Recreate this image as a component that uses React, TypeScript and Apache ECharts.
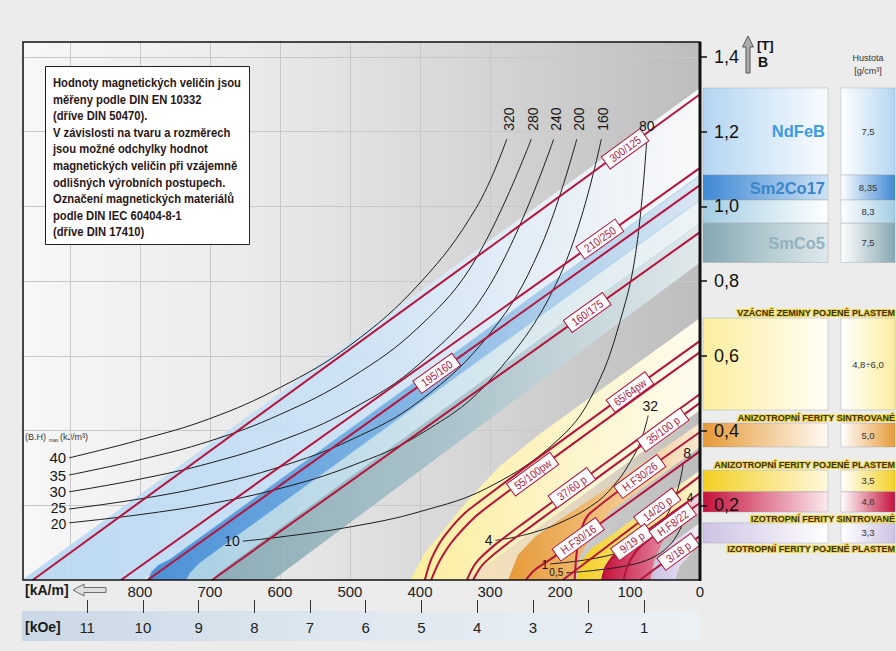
import { useEffect, useRef } from 'react';
import * as echarts from 'echarts';

// Plot frame in page pixels and axis extents
const FRAME = { left: 23, top: 42, right: 700, bottom: 580 };
const H_MAX = 967; // kA/m at the left frame
const B_MAX = 1.44; // T at the top frame
const KAM_PER_KOE = 79.577;

const H_TICKS = [0, 100, 200, 300, 400, 500, 600, 700, 800];
const H_GRID = [100, 200, 300, 400, 500, 600, 700, 800, 900];
const KOE_TICKS = [1, 2, 3, 4, 5, 6, 7, 8, 9, 10, 11];
const B_TICKS = [0.2, 0.4, 0.6, 0.8, 1.0, 1.2, 1.4];

// (BH)max curves, [H kA/m, B T], from the left end up to the top end
const bh320 = [[901, 0.327], [800, 0.375], [700, 0.432], [600, 0.515], [500, 0.628], [400, 0.795], [320, 0.995], [276, 1.18]];
const bh280 = [[901, 0.281], [800, 0.322], [700, 0.372], [600, 0.443], [500, 0.54], [400, 0.68], [320, 0.86], [241, 1.18]];
const bh240 = [[901, 0.236], [800, 0.27], [700, 0.313], [600, 0.372], [500, 0.455], [400, 0.58], [300, 0.79], [209, 1.18]];
const bh200 = [[901, 0.19], [800, 0.217], [700, 0.253], [600, 0.303], [500, 0.374], [400, 0.48], [300, 0.66], [230, 0.88], [176, 1.18]];
const bh160 = [[901, 0.153], [800, 0.175], [700, 0.204], [600, 0.245], [500, 0.304], [400, 0.39], [300, 0.535], [200, 0.815], [141, 1.18]];
const bh80 = [[653, 0.104], [600, 0.115], [500, 0.142], [400, 0.183], [300, 0.25], [200, 0.38], [150, 0.51], [110, 0.72], [90, 0.9], [76, 1.18]];
const bh32 = [[292, 0.106], [250, 0.121], [200, 0.153], [150, 0.205], [120, 0.26], [100, 0.315], [85, 0.37], [74, 0.44]];
const bh8 = [[214, 0.043], [150, 0.058], [100, 0.085], [70, 0.12], [50, 0.165], [36, 0.22], [28, 0.27], [24, 0.31]];
const bh4 = [[191, 0.019], [150, 0.026], [100, 0.04], [70, 0.058], [45, 0.09], [30, 0.13], [22, 0.165], [17, 0.2]];

const BH_CURVES = [
  { kj: '320', mgoe: '40', pts: bh320 },
  { kj: '280', mgoe: '35', pts: bh280 },
  { kj: '240', mgoe: '30', pts: bh240 },
  { kj: '200', mgoe: '25', pts: bh200 },
  { kj: '160', mgoe: '20', pts: bh160 },
  { kj: '80', mgoe: '10', pts: bh80 },
  { kj: '32', mgoe: '4', pts: bh32 },
  { kj: '8', mgoe: '1', pts: bh8 },
  { kj: '4', mgoe: '0,5', pts: bh4 },
];

// Demagnetisation curves of the grades, [H kA/m, B T]
const dm300_125 = [[0, 1.30], [953, 0]];
const dm210_250 = [[0, 1.103], [827, 0]];
const dm195_160 = [[0, 1.057], [789, 0]];
const dm160_175 = [[0, 0.931], [697, 0]];
const dm65_64pw = [[0, 0.640], [329, 0.190], [364, 0.120], [383, 0.059], [393, 0]];
const dm55_100pw = [[0, 0.610], [311, 0.185], [350, 0.112], [371, 0.054], [384, 0]];
const dm37_60p = [[0, 0.498], [250, 0.155], [293, 0.094], [320, 0.046], [333, 0]];
const dm35_100p = [[0, 0.474], [239, 0.147], [283, 0.086], [311, 0.040], [324, 0]];
const dmHF30_26 = [[0, 0.396], [157, 0.179], [170, 0.134], [176, 0.075], [179, 0]];
const dmHF30_16 = [[0, 0.345], [207, 0.064], [236, 0.027], [249, 0]];
const dm14_20p = [[0, 0.278], [196, 0]];
const dm9_19p = [[0, 0.233], [114, 0.078], [133, 0.040], [140, 0]];
const dmHF8_22 = [[0, 0.206], [86, 0.088], [103, 0.040], [109, 0]];
const dm3_18p = [[0, 0.118], [86, 0]];

const GRADES = [
  { name: '300/125', pts: dm300_125 },
  { name: '210/250', pts: dm210_250 },
  { name: '195/160', pts: dm195_160 },
  { name: '160/175', pts: dm160_175 },
  { name: '65/64pw', pts: dm65_64pw },
  { name: '55/100pw', pts: dm55_100pw },
  { name: '37/60 p', pts: dm37_60p },
  { name: '35/100 p', pts: dm35_100p },
  { name: 'H.F30/26', pts: dmHF30_26 },
  { name: 'H.F30/16', pts: dmHF30_16 },
  { name: '14/20 p', pts: dm14_20p },
  { name: '9/19 p', pts: dm9_19p },
  { name: 'H.F8/22', pts: dmHF8_22 },
  { name: '3/18 p', pts: dm3_18p },
];
// field strength (kA/m) at which each grade's tag sits on its curve
const GRADE_TAG_H = [107, 143, 376, 161, 100, 239, 183, 53, 86, 174, 61, 97, 39, 31];

// Material regions, outline as [H kA/m, B T]; first and last point lie on H = 0
const bandNdFeB = [[0, 1.317], [1005, -0.05], [800, -0.05], [796, 0], [0, 1.084]];
const bandSm2Co17 = [[0, 1.084], [757, 0.056], [774, 0.040], [784, 0.021], [789, 0], [733, 0], [728, 0.018], [715, 0.044], [0, 1.017]];
const bandSm2Co17b = [[0, 1.017], [715, 0.044], [728, 0.018], [733, 0], [695, 0], [688, 0.018], [668, 0.046], [0, 0.955]];
const bandSmCo5 = [[0, 0.955], [668, 0.046], [688, 0.018], [695, 0], [610, 0], [0, 0.850]];
const bandRePlastic = [[0, 0.701], [229, 0.391], [286, 0.305], [329, 0.219], [364, 0.139], [393, 0.072], [414, 0], [334, 0], [0, 0.455]];
const bandFerriteHalo = [[0, 0.455], [334, 0], [274, 0], [260, 0.067], [236, 0.115], [200, 0.161], [143, 0.233], [0, 0.420]];
const bandAniSintered = [[0, 0.420], [143, 0.233], [200, 0.161], [236, 0.115], [260, 0.067], [274, 0], [179, 0], [171, 0.067], [154, 0.120], [129, 0.182], [0, 0.356]];
const bandAniPlastic = [[0, 0.294], [121, 0.128], [154, 0.086], [171, 0.048], [177, 0], [139, 0], [129, 0.054], [107, 0.094], [0, 0.236]];
const bandIsoSintered = [[0, 0.236], [97, 0.104], [126, 0.064], [137, 0.032], [140, 0], [71, 0], [66, 0.048], [51, 0.112], [0, 0.182]];
const bandIsoPlastic = [[0, 0.153], [46, 0.091], [63, 0.054], [69, 0], [36, 0], [29, 0.037], [0, 0.099]];

const BANDS = [bandNdFeB, bandSm2Co17, bandSm2Co17b, bandSmCo5, bandRePlastic, bandFerriteHalo, bandAniSintered, bandAniPlastic, bandIsoSintered, bandIsoPlastic];

// Legend: material names and densities (g/cm³), one row per region
const LEGEND_BAND = [0, 1, 2, 3, 4, 6, 7, 8, 9];
const LEGEND_NAMES = ['NdFeB', 'Sm2Co17', '', 'SmCo5', '', '', '', '', ''];
const LEGEND_DENSITY = ['7,5', '8,35', '8,3', '7,5', '4,8÷6,0', '5,0', '3,5', '4,8', '3,3'];
const GROUP_HEADERS = [
  'VZÁCNÉ ZEMINY POJENÉ PLASTEM',
  'ANIZOTROPNÍ FERITY SINTROVANÉ',
  'ANIZOTROPNÍ FERITY POJENÉ PLASTEM',
  'IZOTROPNÍ FERITY SINTROVANÉ',
  'IZOTROPNÍ FERITY POJENÉ PLASTEM',
];

const NOTE_LINES = [
  'Hodnoty magnetických veličin jsou',
  'měřeny podle DIN EN 10332',
  '(dříve DIN 50470).',
  'V závislosti na tvaru a rozměrech',
  'jsou možné odchylky hodnot',
  'magnetických veličin při vzájemně',
  'odlišných výrobních postupech.',
  'Označení magnetických materiálů',
  'podle DIN IEC 60404-8-1',
  '(dříve DIN 17410)',
];

// ---- styles and layout ----
const FONT = '"Liberation Sans", Arial, sans-serif';
const RED = '#b3153d';

const BAND_STYLES = [
  { stops: ['#b3d5f2', '#cbe2f6', '#ffffff'], opacity: 0.9 },
  { stops: ['#3d88d4', '#7fb5e6', '#dceaf7'], opacity: 0.92, stroke: '#9ccbeb' },
  { stops: ['#a3cde3', '#cfe5ef', '#f3f9fb'], opacity: 0.9, stroke: '#a9d2ea' },
  { stops: ['#86a8b2', '#a8c2ca', '#e2ecef'], opacity: 0.92 },
  { stops: ['#fcee9f', '#fdf4c6', '#fffcee'], opacity: 1 },
  { stops: ['rgba(246,224,184,1)', 'rgba(246,224,184,0.55)', 'rgba(246,224,184,0)'], opacity: 1 },
  { stops: ['#e69a38', '#f1c07c', '#fbe8d0'], opacity: 1 },
  { stops: ['#f4d023', '#f8e27a', '#fdf4cf'], opacity: 1 },
  { stops: ['#c6113b', '#dd6a88', '#f6dbe3'], opacity: 1 },
  { stops: ['#cdc2e4', '#ddd5ee', '#f2eff8'], opacity: 1 },
];

const LEGEND_COL1_RIGHT = ['#f9fcff', '#cfe3f5', '#ffffff', '#dfeaee', '#fffef6', '#fffaf3', '#fff8dc', '#fbe9ee', '#ffffff'];
const LEGEND_NAME_COLORS = ['#3d9be2', '#3b86c8', '', '#93b2bb'];
const HEADER_Y = [313, 418, 465, 519, 549];

// kJ/m³ tag at the curve's top end, MGOe tag at its left end
const KJ_TAG = [
  { dx: 2, dy: -20, rot: 90, size: 14 },
  { dx: 2, dy: -20, rot: 90, size: 14 },
  { dx: 2, dy: -20, rot: 90, size: 14 },
  { dx: 2, dy: -20, rot: 90, size: 14 },
  { dx: 2, dy: -20, rot: 90, size: 14 },
  { dx: 0, dy: -13, rot: 0, size: 14 },
  { dx: 2, dy: -10, rot: 0, size: 14 },
  { dx: 4, dy: -11, rot: 0, size: 14 },
  { dx: 2, dy: -7, rot: 0, size: 12 },
];
const MGOE_TAG = [
  { dx: -3, dy: 0, size: 15 },
  { dx: -3, dy: 0, size: 15 },
  { dx: -3, dy: 0, size: 15 },
  { dx: -3, dy: -1, size: 14 },
  { dx: -3, dy: 1, size: 14 },
  { dx: -3, dy: 0, size: 14 },
  { dx: -3, dy: 0, size: 14 },
  { dx: -2, dy: 1, size: 12 },
  { dx: -3, dy: 0, size: 10 },
];

const grad = (stops: string[]) => ({
  type: 'linear', x: 0, y: 0, x2: 1, y2: 0,
  colorStops: stops.map((c, i) => ({ offset: i / (stops.length - 1), color: c })),
});

// B on a grade's curve at field H (linear between the listed points)
const bOnCurve = (pts: number[][], h: number) => {
  for (let i = 0; i < pts.length - 1; i++) {
    const [h0, b0] = pts[i];
    const [h1, b1] = pts[i + 1];
    if (h >= h0 && h <= h1) return b0 + ((b1 - b0) * (h - h0)) / (h1 - h0);
  }
  return pts[pts.length - 1][1];
};

function buildOption() {
  const gridW = FRAME.right - FRAME.left;
  const gridH = FRAME.bottom - FRAME.top;
  const pxPerKam = gridW / H_MAX;
  const yOfB = (b: number) => FRAME.bottom - (b / B_MAX) * gridH;
  const koeLeft = FRAME.right - 11 * KAM_PER_KOE * pxPerKam;
  const koeWidth = 10 * KAM_PER_KOE * pxPerKam;

  const txt = (x: number, y: number, text: string, font: string, fill: string, align = 'left', extra: any = {}) => ({
    type: 'text', x, y, silent: true, ...extra,
    style: { text, font, fill, align, textAlign: align, verticalAlign: 'middle', textVerticalAlign: 'middle', ...(extra.style || {}) },
  });

  const graphics: any[] = [];

  // kOe scale strip
  graphics.push({ type: 'rect', z: -5, silent: true, shape: { x: 22, y: 611, width: 678, height: 30 }, style: { fill: grad(['#cad8e5', '#dfe8f0', '#ebf0f4']) } });
  graphics.push(txt(25, 590, '[kA/m]', `bold 14px ${FONT}`, '#1a1a1a'));
  graphics.push({
    type: 'polygon', z: 10, silent: true,
    shape: { points: [[73, 590], [84, 584], [84, 587.5], [106, 587.5], [106, 592.5], [84, 592.5], [84, 596]] },
    style: { fill: '#dedede', stroke: '#6f6f6f', lineWidth: 1 },
  });
  graphics.push(txt(25, 627, '[kOe]', `bold 14px ${FONT}`, '#1a1a1a'));

  // B axis caption
  graphics.push({
    type: 'polygon', z: 10, silent: true,
    shape: { points: [[748, 36], [742.5, 47], [746, 47], [746, 73], [750, 73], [750, 47], [753.5, 47]] },
    style: { fill: '#acacac', stroke: '#555', lineWidth: 1 },
  });
  graphics.push(txt(757, 45, '[T]', `bold 13px ${FONT}`, '#111'));
  graphics.push(txt(758, 62, 'B', `bold 14px ${FONT}`, '#111'));
  graphics.push(txt(868, 58, 'Hustota', `9px ${FONT}`, '#333', 'center'));
  graphics.push(txt(868, 71, '[g/cm³]', `9px ${FONT}`, '#333', 'center'));

  // legend rows
  LEGEND_BAND.forEach((bi, r) => {
    const band = BANDS[bi];
    const y0 = yOfB(band[0][1]);
    const y1 = yOfB(band[band.length - 1][1]);
    const base = BAND_STYLES[bi].stops[0];
    graphics.push({ type: 'rect', z: -5, silent: true, shape: { x: 703, y: y0, width: 125, height: y1 - y0 }, style: { fill: grad([base, LEGEND_COL1_RIGHT[r]]), stroke: 'rgba(140,150,160,0.35)', lineWidth: 1 } });
    graphics.push({ type: 'rect', z: -5, silent: true, shape: { x: 841, y: y0, width: 54, height: y1 - y0 }, style: { fill: grad(['#ffffff', base]), stroke: 'rgba(140,150,160,0.35)', lineWidth: 1 } });
    const ym = (y0 + y1) / 2;
    if (LEGEND_NAMES[r]) graphics.push(txt(825, ym, LEGEND_NAMES[r], `bold 16.5px ${FONT}`, LEGEND_NAME_COLORS[r], 'right', { z: -4 }));
    graphics.push(txt(868, ym, LEGEND_DENSITY[r], `9.5px ${FONT}`, '#333', 'center', { z: -4 }));
  });
  GROUP_HEADERS.forEach((h, i) => {
    graphics.push(txt(895, HEADER_Y[i], h, `bold 9px ${FONT}`, '#f0d64a', 'right', { z: -3, style: { stroke: '#f0d64a', lineWidth: 2.2 } }));
    graphics.push(txt(895, HEADER_Y[i], h, `bold 9px ${FONT}`, '#3a3212', 'right', { z: -2 }));
  });

  // (BH)max caption
  graphics.push(txt(25, 437, '(B.H)', `9px ${FONT}`, '#333'));
  graphics.push(txt(49, 440, 'max', `5px ${FONT}`, '#333'));
  graphics.push(txt(60, 437, '(kJ/m³)', `9px ${FONT}`, '#333'));

  // frame
  graphics.push({ type: 'rect', z: 50, silent: true, shape: { x: FRAME.left, y: FRAME.top, width: gridW, height: gridH }, style: { fill: 'none', stroke: '#111', lineWidth: 1.5 } });
  graphics.push({ type: 'line', z: 51, silent: true, shape: { x1: FRAME.right, y1: FRAME.top, x2: FRAME.right, y2: FRAME.bottom + 1 }, style: { stroke: '#111', lineWidth: 3 } });

  // note box
  graphics.push({ type: 'rect', z: 60, silent: true, shape: { x: 45.5, y: 66.5, width: 204, height: 178 }, style: { fill: '#ffffff', stroke: '#222', lineWidth: 1 } });
  NOTE_LINES.forEach((line, i) => {
    graphics.push(txt(53, 83 + i * 16.55, line, `bold 12.5px ${FONT}`, '#2a1616', 'left', { z: 61, scaleX: 0.9 }));
  });

  const series: any[] = [];

  series.push({
    type: 'custom', coordinateSystem: 'cartesian2d', clip: true, silent: true, z: 1,
    data: BANDS.map(() => [0, 0]),
    renderItem: (params: any, api: any) => {
      const i = params.dataIndex;
      const st: any = BAND_STYLES[i];
      const points = BANDS[i].map((p) => api.coord(p));
      return {
        type: 'polygon',
        shape: { points },
        style: { fill: grad(st.stops), stroke: st.stroke || 'none', lineWidth: st.stroke ? 0.8 : 0, opacity: st.opacity },
      };
    },
  });

  BH_CURVES.forEach((c) => {
    series.push({
      type: 'line', data: c.pts, smooth: 0.4, symbol: 'none', silent: true, z: 3,
      lineStyle: { color: '#1c1c1c', width: 1 },
    });
  });

  GRADES.forEach((g) => {
    series.push({
      type: 'line', data: g.pts, smooth: 0.3, symbol: 'none', silent: true, z: 4,
      lineStyle: { color: RED, width: 2 },
    });
  });

  // grade tags along their curves
  series.push({
    type: 'custom', coordinateSystem: 'cartesian2d', clip: false, silent: true, z: 5,
    data: GRADES.map(() => [0, 0]),
    renderItem: (params: any, api: any) => {
      const g = GRADES[params.dataIndex];
      const h = GRADE_TAG_H[params.dataIndex];
      const [x, y] = api.coord([h, bOnCurve(g.pts, h)]);
      const p0 = api.coord(g.pts[0]);
      const p1 = api.coord(g.pts[1]);
      const rot = Math.atan2(p1[1] - p0[1], p0[0] - p1[0]);
      const w = g.name.length * 5.7 + 8;
      return {
        type: 'group', x, y, rotation: rot,
        children: [
          { type: 'rect', shape: { x: -w / 2, y: -7.5, width: w, height: 15 }, style: { fill: '#ffffff', stroke: RED, lineWidth: 1 } },
          { type: 'text', x: 0, y: 0, scaleX: 0.86, style: { text: g.name, x: 0, y: 0, align: 'center', verticalAlign: 'middle', fill: RED, font: `11.5px ${FONT}` } },
        ],
      };
    },
  });

  // curve value tags
  const tags: any[] = [];
  BH_CURVES.forEach((c, i) => {
    tags.push({ text: c.kj, pt: c.pts[c.pts.length - 1], lay: KJ_TAG[i], align: 'center' });
    tags.push({ text: c.mgoe, pt: c.pts[0], lay: { ...MGOE_TAG[i], rot: 0 }, align: 'right' });
  });
  series.push({
    type: 'custom', coordinateSystem: 'cartesian2d', clip: false, silent: true, z: 6,
    data: tags.map(() => [0, 0]),
    renderItem: (params: any, api: any) => {
      const t = tags[params.dataIndex];
      const [x, y] = api.coord(t.pt);
      return {
        type: 'text', x: x + t.lay.dx, y: y + t.lay.dy, rotation: (t.lay.rot * Math.PI) / 180,
        style: { text: t.text, x: 0, y: 0, align: t.align, verticalAlign: 'middle', fill: '#161616', font: `${t.lay.size}px ${FONT}` },
      };
    },
  });

  return {
    animation: false,
    backgroundColor: '#ececec',
    textStyle: { fontFamily: FONT },
    grid: [
      {
        left: FRAME.left, top: FRAME.top, width: gridW, height: gridH, show: true,
        borderWidth: 0,
        backgroundColor: grad(['#f7f7f7', '#eaeaea', '#d6d6d6', '#bdbdbd']),
      },
      { left: koeLeft, top: 598, width: koeWidth, height: 2, show: false },
    ],
    xAxis: [
      {
        type: 'value', gridIndex: 0, min: 0, max: H_MAX, interval: 100, inverse: true,
        axisLine: { show: false },
        axisTick: { show: false, customValues: H_GRID },
        axisLabel: {
          customValues: H_TICKS, margin: 4, fontSize: 15, color: '#222',
          formatter: (v: number) => (H_TICKS.indexOf(Math.round(v)) >= 0 && Math.abs(v - Math.round(v)) < 1e-6 ? String(Math.round(v)) : ''),
        },
        splitLine: { show: true, lineStyle: { color: '#c8c8c8', width: 1 } },
      },
      {
        type: 'value', gridIndex: 1, min: 1, max: 11, interval: 1, inverse: true,
        axisLine: { show: false },
        axisTick: { show: true, customValues: KOE_TICKS, length: 13, lineStyle: { color: '#333', width: 1 } },
        axisLabel: { customValues: KOE_TICKS, margin: 20, fontSize: 15, color: '#222' },
        splitLine: { show: false },
      },
    ],
    yAxis: [
      {
        type: 'value', gridIndex: 0, min: 0, max: B_MAX, interval: 0.2, position: 'right',
        axisLine: { show: false },
        axisTick: { show: true, customValues: B_TICKS, length: 7, lineStyle: { color: '#111', width: 1.5 } },
        axisLabel: {
          customValues: B_TICKS, margin: 14, fontSize: 18, color: '#111',
          formatter: (v: number) => (v > 0.05 && v < 1.41 ? v.toFixed(1).replace('.', ',') : ''),
        },
        splitLine: { show: true, lineStyle: { color: '#c8c8c8', width: 1 } },
      },
      { type: 'value', gridIndex: 1, min: 0, max: 1, show: false },
    ],
    graphic: { elements: graphics },
    series,
  };
}

export default function App() {
  const ref = useRef<HTMLDivElement>(null);
  useEffect(() => {
    const chart = echarts.init(ref.current as HTMLDivElement, undefined, { renderer: 'svg' });
    chart.setOption(buildOption() as any);
    return () => chart.dispose();
  }, []);
  return (
    <div
      ref={ref}
      style={{ position: 'fixed', left: 0, top: 0, width: 896, height: 651, background: '#ececec' }}
    />
  );
}
